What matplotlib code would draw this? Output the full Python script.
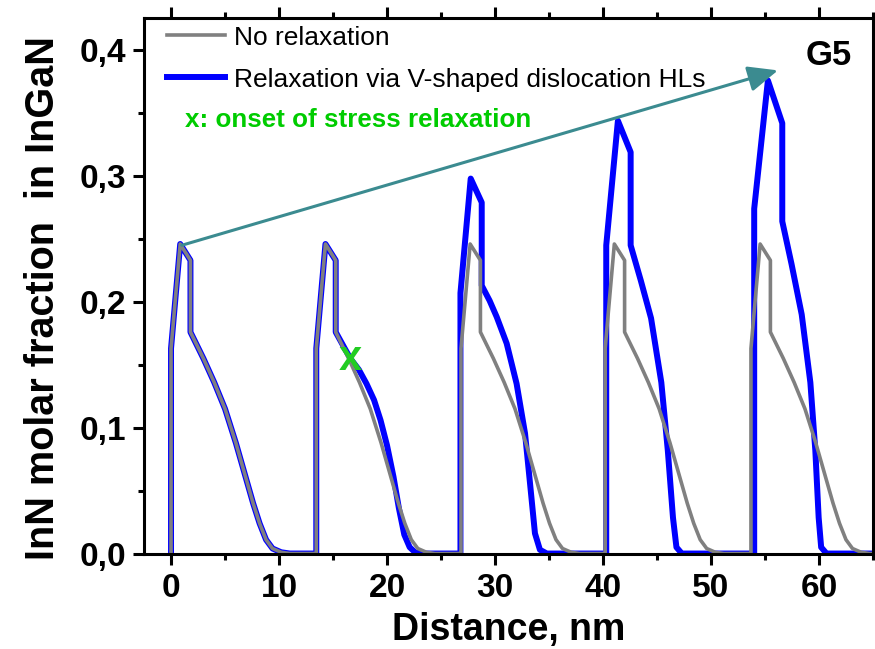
import matplotlib
matplotlib.use("Agg")
import matplotlib.pyplot as plt
import numpy as np

plt.rcParams['font.family'] = ['Liberation Sans', 'DejaVu Sans']

# gray profile of one well (no relaxation), offsets in nm from the well start
gray_dx = [0, 0, 0.85, 1.8, 1.8, 3.0, 4.0, 5.0, 6.0, 7.0, 7.6, 8.2, 8.8, 9.4, 10.2, 11.0]
gray_y = [0, 0.163, 0.246, 0.233, 0.176, 0.155, 0.136, 0.115, 0.088, 0.058, 0.040, 0.024, 0.011, 0.004, 0.001, 0]
well_starts = [0, 13.45, 26.85, 40.2, 53.7]

# relaxed profile (V-shaped dislocation HLs), absolute positions
blue_x = [0, 0, 0.85, 1.8, 1.8, 3.0, 4.0, 5.0, 6.0, 7.0, 7.6, 8.2, 8.8, 9.4, 10.2, 11.0,
          13.45, 13.45, 14.3, 15.25, 15.25, 16.6, 17.4, 18.1, 18.8, 19.4, 20.0, 20.6, 21.1, 21.6, 22.1, 22.6, 23.1,
          26.8, 26.8, 27.75, 28.77, 28.77, 29.5, 30.16, 31.08, 32.0, 32.78, 33.24, 33.7, 34.16, 34.8,
          40.3, 40.3, 41.38, 42.56, 42.56, 43.5, 44.45, 45.4, 46.0, 46.48, 46.8, 47.3,
          54.0, 54.0, 55.27, 56.6, 56.6, 57.46, 58.4, 59.2, 59.66, 59.97, 60.2, 60.7, 65]
blue_y = [0, 0.163, 0.246, 0.233, 0.176, 0.155, 0.136, 0.115, 0.088, 0.058, 0.040, 0.024, 0.011, 0.004, 0.001, 0,
          0, 0.163, 0.246, 0.233, 0.176, 0.155, 0.146, 0.135, 0.122, 0.106, 0.086, 0.061, 0.036, 0.015, 0.005, 0.001, 0,
          0, 0.207, 0.298, 0.279, 0.213, 0.201, 0.188, 0.167, 0.135, 0.0955, 0.056, 0.016, 0.003, 0,
          0, 0.245, 0.344, 0.319, 0.245, 0.217, 0.187, 0.136, 0.082, 0.0285, 0.005, 0,
          0, 0.274, 0.376, 0.342, 0.264, 0.230, 0.190, 0.136, 0.082, 0.0285, 0.005, 0, 0]

onset_x, onset_y = 16.6, 0.155
arrow_from = (1.0, 0.245)
arrow_to = (56.2, 0.384)

gray_x = np.concatenate([np.array(gray_dx) + s for s in well_starts] + [[65]])
gray_all = np.concatenate([gray_y] * len(well_starts) + [[0]])

teal = '#3b8b90'

fig = plt.figure(figsize=(8.75, 6.49), dpi=100)
ax = fig.add_axes([0.1646, 0.1471, 0.8331, 0.8259])

ax.plot(blue_x, blue_y, color='#0000ff', lw=4.3, solid_joinstyle='round', label='Relaxation via V-shaped dislocation HLs')
ax.plot(gray_x, gray_all, color='#808080', lw=2.6, solid_joinstyle='round', label='No relaxation')

ax.annotate('', xy=arrow_to, xytext=arrow_from,
            arrowprops=dict(arrowstyle='-|>,head_length=0.65,head_width=0.28', color=teal,
                            lw=2.2, mutation_scale=28, shrinkA=0, shrinkB=0))

ax.text(onset_x, onset_y, 'x', color='#22cc22', fontsize=30, fontweight='bold',
        ha='center', va='center')
ax.text(0.056, 0.809, 'x: onset of stress relaxation', transform=ax.transAxes,
        color='#00cc00', fontsize=18.7, fontweight='bold', va='center')
ax.text(0.94, 0.93, 'G5', transform=ax.transAxes, fontsize=25, fontweight='bold',
        ha='center', va='center')

handles, labels = ax.get_legend_handles_labels()
leg = ax.legend(handles[::-1], labels[::-1], loc='upper left', bbox_to_anchor=(0.0316, 0.985),
                frameon=False, fontsize=19, handlelength=2.2, handletextpad=0.35,
                labelspacing=0.68, borderpad=0, borderaxespad=0)

ax.set_xlim(-2.5, 65)
ax.set_ylim(0, 0.426)
ax.set_xticks(np.arange(0, 61, 10))
ax.set_xticks(np.arange(5, 66, 10), minor=True)
ax.set_yticks(np.arange(0, 0.41, 0.1))
ax.set_yticks(np.arange(0.05, 0.42, 0.1), minor=True)
ax.set_yticklabels(['0,0', '0,1', '0,2', '0,3', '0,4'])

for sp in ax.spines.values():
    sp.set_linewidth(2.2)
ax.tick_params(which='both', direction='out', width=2.2, top=True, right=False,
               labelsize=24)
ax.tick_params(which='major', length=8)
ax.tick_params(which='minor', length=4.5)
ax.tick_params(axis='x', pad=6)
ax.tick_params(axis='y', pad=5)
for lab in ax.get_xticklabels() + ax.get_yticklabels():
    lab.set_fontweight('bold')

ax.set_xlabel('Distance, nm', fontsize=27, fontweight='bold', labelpad=6)
ax.set_ylabel('InN molar fraction  in InGaN', fontsize=28.5, fontweight='bold')
ax.yaxis.set_label_coords(-0.113, 0.477)

fig.savefig('out.png', dpi=100)
